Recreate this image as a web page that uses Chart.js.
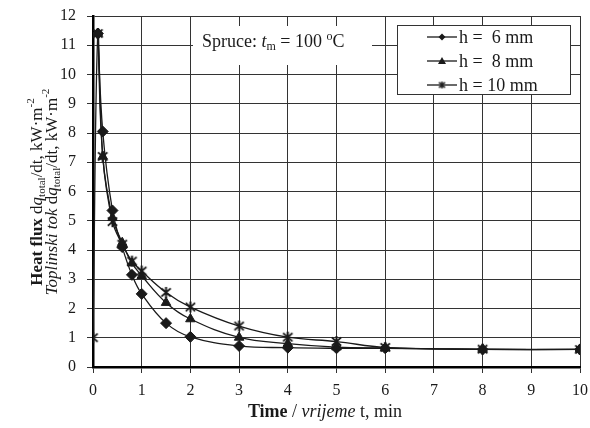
<!DOCTYPE html>
<html>
<head>
<meta charset="utf-8">
<script src="https://cdn.jsdelivr.net/npm/chart.js@4/dist/chart.umd.min.js"></script>
<style>
  html, body { margin: 0; padding: 0; background: #fff; }
  #wrap { width: 590px; height: 428px; }
</style>
</head>
<body>
<div id="wrap"><canvas id="c" width="590" height="428"></canvas></div>
<script>
// Time, min
const times = [0, 0.1, 0.2, 0.4, 0.6, 0.8, 1, 1.5, 2, 3, 4, 5, 6, 8, 10];
// Heat flux, kW·m⁻², for each specimen thickness
const h6  = [null, 11.4, 8.05, 5.35, 4.1, 3.15, 2.5, 1.5, 1.03, 0.72, 0.66, 0.64, 0.64, 0.6, 0.6];
const h8  = [null, 11.4, 7.2, 5.1, 4.25, 3.55, 3.12, 2.2, 1.64, 1.01, 0.8, 0.68, 0.65, 0.6, 0.6];
const h10 = [1.0, 11.4, 7.2, 4.97, 4.2, 3.62, 3.28, 2.55, 2.05, 1.4, 1.02, 0.87, 0.67, 0.61, 0.6];
const seriesLabels = ['h =  6 mm', 'h =  8 mm', 'h = 10 mm'];
const xTicks = [0, 1, 2, 3, 4, 5, 6, 7, 8, 9, 10];
const yTicks = [0, 1, 2, 3, 4, 5, 6, 7, 8, 9, 10, 11, 12];

const INK = '#1a1a1a';
const SERIF = '"Liberation Serif", "DejaVu Serif", serif';

// asterisk marker: an X crossed by a vertical stroke
function makeStar(r, lw) {
  const s = Math.ceil(2 * r + lw + 2);
  const cv = document.createElement('canvas');
  cv.width = s; cv.height = s;
  const g = cv.getContext('2d');
  const c = s / 2;
  g.strokeStyle = INK; g.lineWidth = lw; g.lineCap = 'butt';
  g.beginPath();
  g.moveTo(c - r * 0.85, c - r * 0.75); g.lineTo(c + r * 0.85, c + r * 0.75);
  g.moveTo(c + r * 0.85, c - r * 0.75); g.lineTo(c - r * 0.85, c + r * 0.75);
  g.moveTo(c, c - r); g.lineTo(c, c + r);
  g.stroke();
  return cv;
}
const starBig = makeStar(5.5, 2);
const starSmall = makeStar(3.5, 1.4);

function toPoints(ys) {
  return times.map((t, i) => ({ x: t, y: ys[i] })).filter(p => p.y !== null);
}

function ds(label, ys, style, radius, order) {
  return {
    label, data: toPoints(ys), order,
    borderColor: INK, backgroundColor: INK, borderWidth: 1.3,
    pointStyle: style, pointRadius: radius, pointBorderWidth: 1,
    pointBackgroundColor: INK, pointBorderColor: INK,
    tension: 0.4, fill: false
  };
}

// mixed-style text runs laid out left to right from x on baseline y
function runsWidth(ctx, runs) {
  let w = 0;
  for (const r of runs) { ctx.font = r.font; w += ctx.measureText(r.t).width; }
  return w;
}
function drawRuns(ctx, runs, x, y) {
  let cx = x;
  for (const r of runs) {
    ctx.font = r.font;
    ctx.fillText(r.t, cx, y + (r.dy || 0));
    cx += ctx.measureText(r.t).width;
  }
}
const F = (style, size) => `${style} ${size}px ${SERIF}`;

// fixed plot frame
function noPad(s) { s.paddingLeft = 0; s.paddingRight = 0; s.paddingTop = 0; s.paddingBottom = 0; }

const decorations = {
  id: 'decorations',
  afterDatasetsDraw(chart) {
    const ctx = chart.ctx;
    ctx.save();
    ctx.textBaseline = 'alphabetic';

    // specimen note
    ctx.fillStyle = '#fff';
    ctx.fillRect(193, 26, 179, 39);
    ctx.fillStyle = INK;
    drawRuns(ctx, [
      { t: 'Spruce: ', font: F('normal', 18) },
      { t: 't', font: F('italic', 18) },
      { t: 'm', font: F('normal', 12), dy: 3 },
      { t: ' = 100 ', font: F('normal', 18) },
      { t: 'o', font: F('normal', 12), dy: -7 },
      { t: 'C', font: F('normal', 18) }
    ], 202, 47);

    // legend
    ctx.fillStyle = '#fff';
    ctx.fillRect(397, 25, 174, 70);
    ctx.strokeStyle = '#333';
    ctx.lineWidth = 1;
    ctx.strokeRect(397.5, 25.5, 173, 69);
    const rows = [37, 61, 85];
    const styles = ['rectRot', 'triangle', 'star'];
    chart.data.datasets.forEach((d, i) => {
      const y = rows[i];
      ctx.strokeStyle = INK;
      ctx.lineWidth = 1.3;
      ctx.beginPath(); ctx.moveTo(427, y); ctx.lineTo(457, y); ctx.stroke();
      ctx.fillStyle = INK;
      if (styles[i] === 'rectRot') {
        ctx.beginPath();
        ctx.moveTo(442, y - 3.5); ctx.lineTo(445.5, y); ctx.lineTo(442, y + 3.5); ctx.lineTo(438.5, y);
        ctx.closePath(); ctx.fill();
      } else if (styles[i] === 'triangle') {
        ctx.beginPath();
        ctx.moveTo(442, y - 4); ctx.lineTo(446, y + 3); ctx.lineTo(438, y + 3);
        ctx.closePath(); ctx.fill();
      } else {
        ctx.drawImage(starSmall, 442 - starSmall.width / 2, y - starSmall.height / 2);
      }
      ctx.font = F('normal', 18);
      ctx.fillText(seriesLabels[i], 459, y + 6);
    });

    // x-axis title
    const xr = [
      { t: 'Time', font: F('bold', 18) },
      { t: ' / ', font: F('normal', 18) },
      { t: 'vrijeme', font: F('italic', 18) },
      { t: ' t, min', font: F('normal', 18) }
    ];
    ctx.fillStyle = INK;
    drawRuns(ctx, xr, 325 - runsWidth(ctx, xr) / 2, 417);

    // y-axis title, two rotated lines
    const l1 = [
      { t: 'Heat flux', font: F('bold', 17) },
      { t: ' d', font: F('normal', 17) },
      { t: 'q', font: F('italic', 17) },
      { t: 'total', font: F('normal', 11), dy: 3 },
      { t: '/dt, kW·m', font: F('normal', 17) },
      { t: '-2', font: F('normal', 11), dy: -8 }
    ];
    const l2 = [
      { t: 'Toplinski tok', font: F('italic', 17) },
      { t: ' d', font: F('normal', 17) },
      { t: 'q', font: F('italic', 17) },
      { t: 'total', font: F('normal', 11), dy: 3 },
      { t: '/dt, kW·m', font: F('normal', 17) },
      { t: '-2', font: F('normal', 11), dy: -8 }
    ];
    ctx.translate(0, 192);
    ctx.rotate(-Math.PI / 2);
    drawRuns(ctx, l1, -runsWidth(ctx, l1) / 2, 42);
    drawRuns(ctx, l2, -runsWidth(ctx, l2) / 2, 57);
    ctx.restore();
  }
};

new Chart(document.getElementById('c'), {
  type: 'line',
  data: {
    datasets: [
      ds(seriesLabels[0], h6, 'rectRot', 5.5, 2),
      ds(seriesLabels[1], h8, 'triangle', 5.5, 0),
      ds(seriesLabels[2], h10, starBig, 5.5, 1)
    ]
  },
  options: {
    responsive: false,
    devicePixelRatio: 1,
    animation: false,
    layout: { padding: { left: 0, right: 10, top: 16, bottom: 0 } },
    plugins: { legend: { display: false }, tooltip: { enabled: false } },
    scales: {
      x: {
        type: 'linear', min: 0, max: 10,
        afterBuildTicks: s => { s.ticks = xTicks.map(v => ({ value: v })); },
        afterFit: s => { s.height = 61; noPad(s); },
        grid: { color: '#333', lineWidth: 1, tickLength: 6 },
        border: { color: '#000', width: 2.5 },
        ticks: { color: INK, padding: 8, maxRotation: 0, font: { family: SERIF, size: 16 } }
      },
      y: {
        min: 0, max: 12,
        afterBuildTicks: s => { s.ticks = yTicks.map(v => ({ value: v })); },
        afterFit: s => { s.width = 93; noPad(s); },
        grid: { color: '#333', lineWidth: 1, tickLength: 6 },
        border: { color: '#000', width: 2.5 },
        ticks: { color: INK, padding: 11, font: { family: SERIF, size: 16 } }
      }
    }
  },
  plugins: [decorations]
});
</script>
</body>
</html>
